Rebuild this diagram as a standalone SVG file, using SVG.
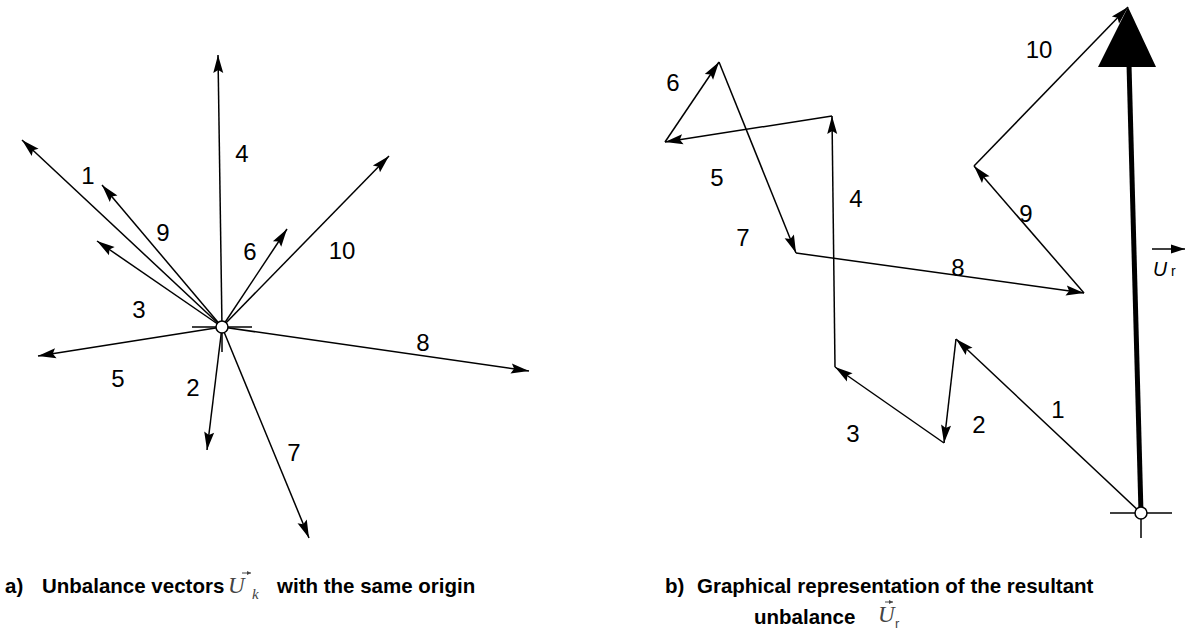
<svg xmlns="http://www.w3.org/2000/svg" width="1186" height="630" viewBox="0 0 1186 630">
<style>
.v{stroke:#000;stroke-width:1.5;fill:none;marker-end:url(#ah)}
.t{stroke:#000;stroke-width:1.5;fill:none}
.n{font-family:"Liberation Sans",Arial,sans-serif;font-size:24px;fill:#000;text-anchor:middle}
.cap{font-family:"Liberation Sans",Arial,sans-serif;font-size:20.5px;font-weight:bold;fill:#000}
.mu{font-family:"Liberation Serif","Times New Roman",serif;font-style:italic;fill:#444}
.o{fill:#fff;stroke:#000;stroke-width:1.5}
</style>
<defs>
<marker id="ah" markerUnits="userSpaceOnUse" viewBox="-19 -6 20 12" refX="0" refY="0" markerWidth="20" markerHeight="12" orient="auto"><path d="M0,0 L-18,-5 L-15,0 L-18,5 Z" fill="#000"/></marker>
<marker id="sm" markerUnits="userSpaceOnUse" viewBox="-15 -5 16 10" refX="0" refY="0" markerWidth="16" markerHeight="10" orient="auto"><path d="M0,0 L-14,-4.5 L-14,4.5 Z" fill="#000"/></marker>
<marker id="tiny" markerUnits="userSpaceOnUse" viewBox="-5 -3 6 6" refX="0" refY="0" markerWidth="6" markerHeight="6" orient="auto"><path d="M0,0 L-4,-2 L-4,2 Z" fill="#444"/></marker>
</defs>

<g id="diagram-a">
<g id="connectors-a">
<line class="v" x1="222" y1="327" x2="22" y2="140"/>
<line class="v" x1="222" y1="327" x2="207" y2="450"/>
<line class="v" x1="222" y1="327" x2="97" y2="241"/>
<line class="v" x1="222" y1="327" x2="218" y2="55"/>
<line class="v" x1="222" y1="327" x2="38" y2="356"/>
<line class="v" x1="222" y1="327" x2="287" y2="229"/>
<line class="v" x1="222" y1="327" x2="309" y2="538"/>
<line class="v" x1="222" y1="327" x2="529" y2="371"/>
<line class="v" x1="222" y1="327" x2="102" y2="185"/>
<line class="v" x1="222" y1="327" x2="389" y2="156"/>
</g>
<g id="origin-a">
<line class="t" x1="192" y1="327" x2="252" y2="327"/>
<line class="t" x1="222" y1="327" x2="222" y2="352"/>
<circle class="o" cx="222" cy="327" r="6"/>
</g>
<g id="labels-a">
<text class="n" x="88" y="184">1</text>
<text class="n" x="193" y="396">2</text>
<text class="n" x="139" y="318">3</text>
<text class="n" x="242" y="162">4</text>
<text class="n" x="118" y="387">5</text>
<text class="n" x="250" y="260">6</text>
<text class="n" x="294" y="461">7</text>
<text class="n" x="423" y="351">8</text>
<text class="n" x="163" y="241">9</text>
<text class="n" x="342" y="259">10</text>
</g>
</g>

<g id="diagram-b">
<g id="connectors-b">
<line class="v" x1="1141" y1="513" x2="956" y2="339"/>
<line class="v" x1="956" y1="339" x2="944" y2="443"/>
<line class="v" x1="944" y1="443" x2="835" y2="367"/>
<line class="v" x1="835" y1="367" x2="832" y2="116"/>
<line class="v" x1="832" y1="116" x2="665" y2="142"/>
<line class="v" x1="665" y1="142" x2="719" y2="62"/>
<line class="v" x1="719" y1="62" x2="796" y2="253"/>
<line class="v" x1="796" y1="253" x2="1084" y2="293"/>
<line class="v" x1="1084" y1="293" x2="974" y2="166"/>
<line class="v" x1="974" y1="166" x2="1128" y2="7"/>
</g>
<g id="resultant">
<line x1="1141" y1="513" x2="1129" y2="64" stroke="#000" stroke-width="5"/>
<polygon points="1128,7 1156,67 1098,67" fill="#000"/>
</g>
<g id="origin-b">
<line class="t" x1="1110" y1="513" x2="1172" y2="513"/>
<line class="t" x1="1141" y1="513" x2="1141" y2="538"/>
<circle class="o" cx="1141" cy="513" r="6"/>
</g>
<g id="labels-b">
<text class="n" x="1058" y="418">1</text>
<text class="n" x="979" y="433">2</text>
<text class="n" x="853" y="442">3</text>
<text class="n" x="856" y="207">4</text>
<text class="n" x="717" y="186">5</text>
<text class="n" x="673" y="91">6</text>
<text class="n" x="743" y="246">7</text>
<text class="n" x="958" y="276">8</text>
<text class="n" x="1026" y="222">9</text>
<text class="n" x="1039" y="58">10</text>
</g>
<g id="ur-label">
<line x1="1152" y1="249" x2="1185" y2="249" stroke="#000" stroke-width="1.5" marker-end="url(#sm)"/>
<text x="1153" y="276" font-family="Liberation Sans, Arial, sans-serif" font-size="19.5" font-style="italic">U</text>
<text x="1171" y="276" font-family="Liberation Sans, Arial, sans-serif" font-size="14">r</text>
</g>
</g>

<g id="caption-a">
<text class="cap" y="593"><tspan x="5">a)</tspan><tspan x="42">Unbalance vectors</tspan><tspan x="277">with the same origin</tspan></text>
<text class="mu" x="228" y="593" font-size="23">U</text>
<text class="mu" x="252" y="599" font-size="15">k</text>
<line x1="242" y1="573" x2="251" y2="573" stroke="#444" stroke-width="1" marker-end="url(#tiny)"/>
</g>

<g id="caption-b">
<text class="cap" y="593"><tspan x="665">b)</tspan><tspan x="697">Graphical representation of the resultant</tspan></text>
<text class="cap" x="754" y="624">unbalance</text>
<text class="mu" x="878" y="622" font-size="23">U</text>
<text x="895" y="628" font-family="Liberation Sans, Arial, sans-serif" font-size="13" fill="#444">r</text>
<line x1="885" y1="602" x2="893" y2="602" stroke="#444" stroke-width="1" marker-end="url(#tiny)"/>
</g>
</svg>
